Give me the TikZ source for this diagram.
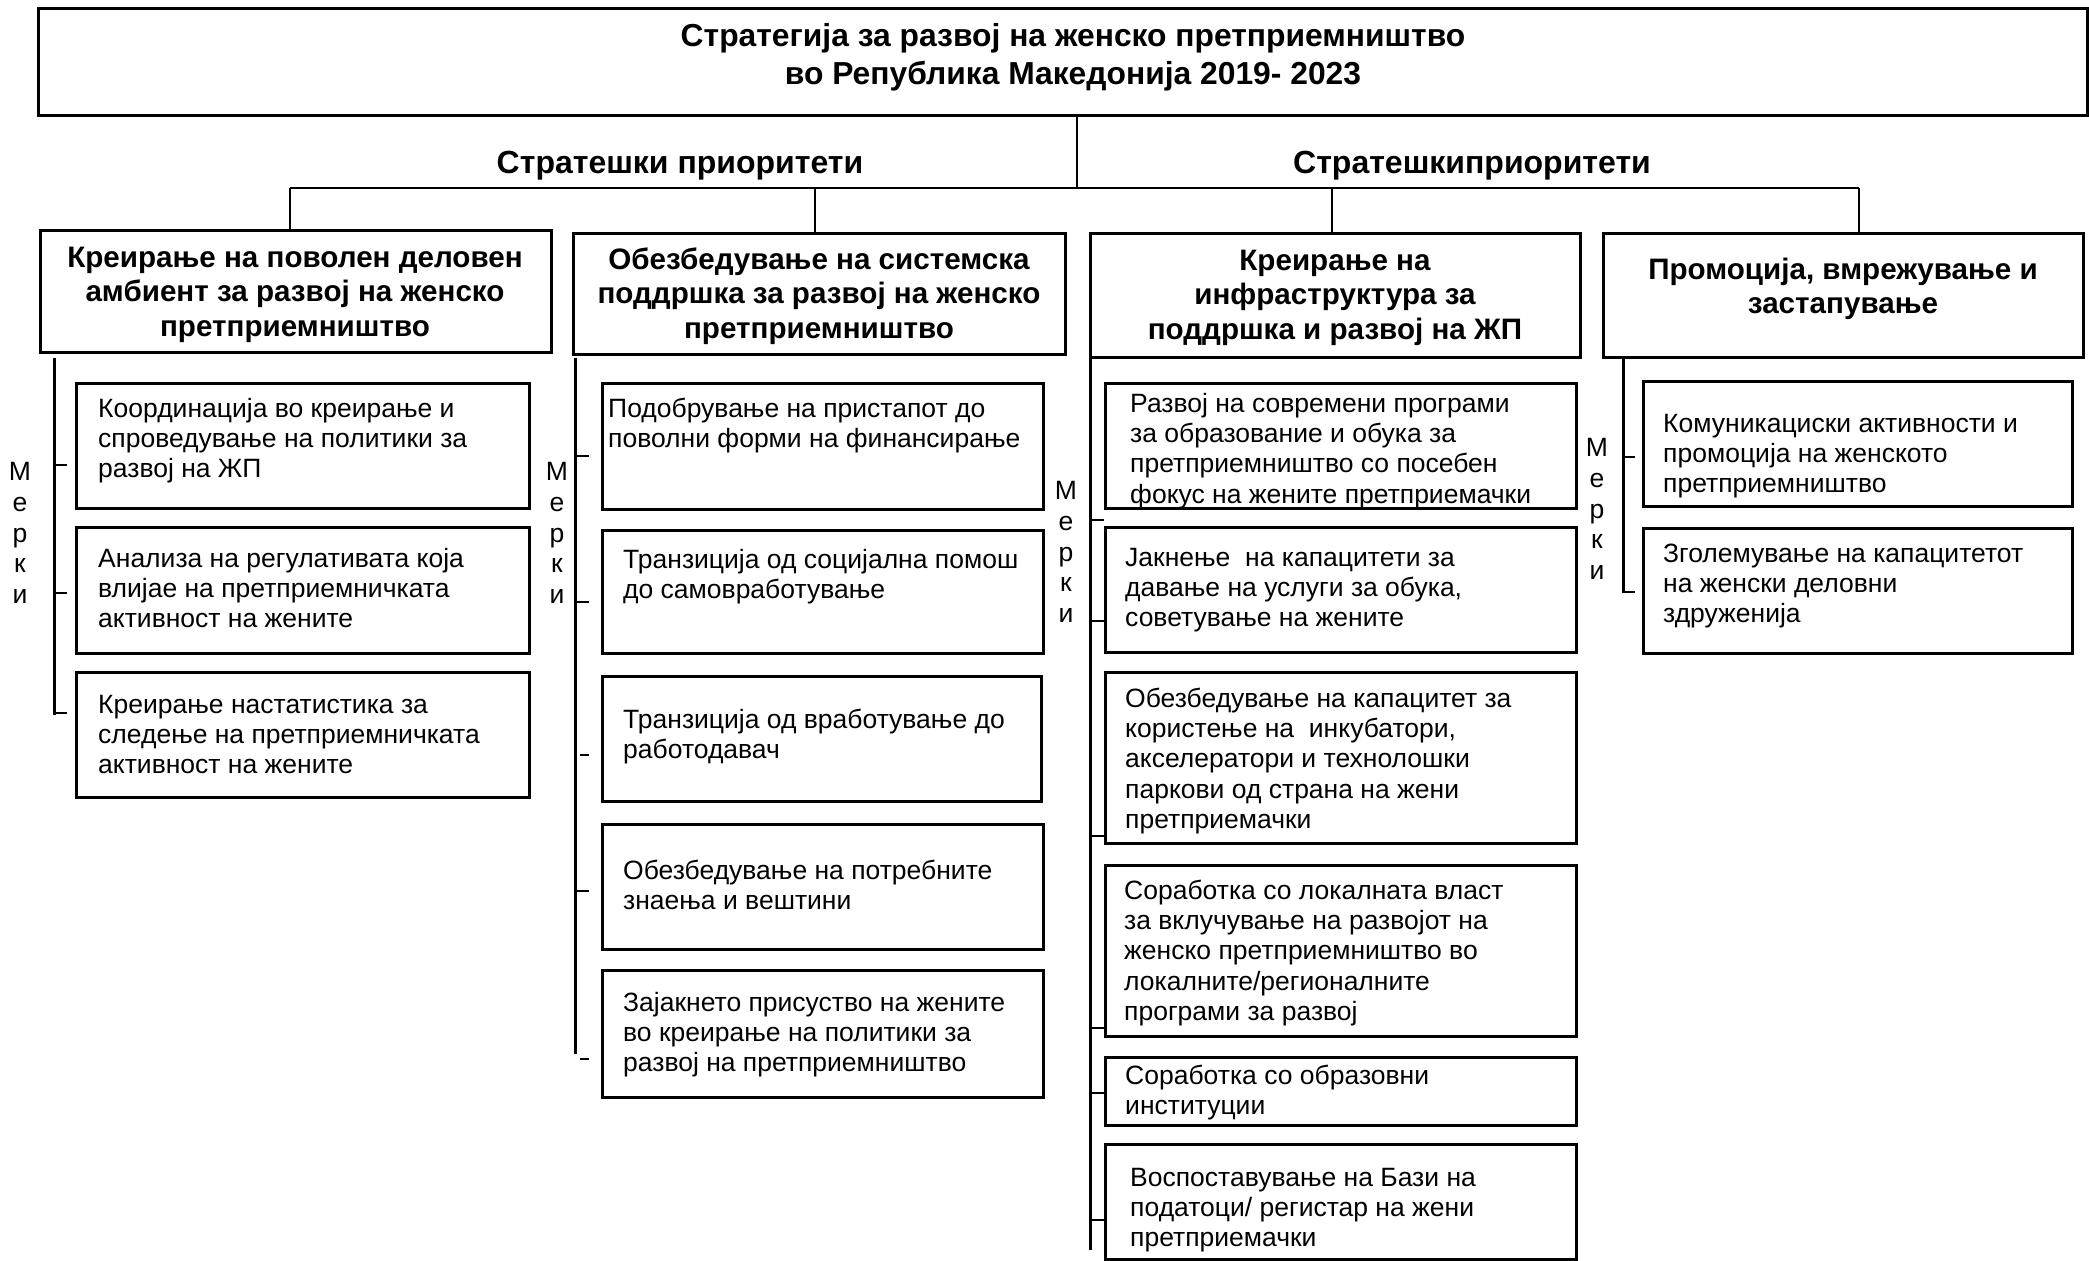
\documentclass[tikz,border=0pt]{standalone}
\usepackage{fontspec}
\setmainfont{Liberation Sans}
\usetikzlibrary{fit,calc}
\newcommand\fs{\rule{0pt}{24pt}}
\newcommand\hs{\rule{0pt}{28pt}}
\tikzset{
  boxline/.style={draw, line width=3pt, inner sep=0pt},
  conn/.style={line width=2.2pt},
  brack/.style={line width=3pt},
  tick/.style={line width=2.8pt},
  body/.style={inner sep=0pt, align=left, font=\fontsize{26.5}{30.3}\selectfont},
  head/.style={inner sep=0pt, align=center, font=\fontsize{29.6}{34.5}\selectfont\bfseries},
  lbl/.style={inner sep=0pt, align=center, font=\fontsize{32}{38}\selectfont\bfseries},
  ttl/.style={inner sep=0pt, align=center, font=\fontsize{31.8}{38}\selectfont\bfseries},
  merki/.style={inner sep=0pt, align=center, font=\fontsize{26.5}{30.6}\selectfont},
}
\newcommand\bx[5]{\path (#2,#3) coordinate (#1-nw) (#4,#5) coordinate (#1-se);
  \node[boxline, fit=(#1-nw)(#1-se)] (#1) {};}
\newcommand\tx[4]{\node[body, anchor=north west] (#1) at (#2,{#3-24}) {\fs #4};}
\newcommand\hd[4]{\node[head, anchor=north] (#1) at (#2,{#3-28}) {\hs #4};}
\begin{document}
\begin{tikzpicture}[x=1pt,y=-1pt]
\useasboundingbox (0,0) rectangle (2089,1261);
\fill[white] (0,0) rectangle (2089,1261);

% title
\bx{title}{38}{8}{2087}{115}
\node[ttl, anchor=north] (titletext) at (1073,{46-28}) {\hs Стратегија за развој на женско претприемништво\\во Република Македонија 2019- 2023};

\node[lbl, anchor=base] (sp1) at (680,173) {Стратешки приоритети};
\node[lbl, anchor=base] (sp2) at (1472,173) {Стратешкиприоритети};

% priority boxes
\bx{h1}{40}{230}{551}{352}
\bx{h2}{573}{233}{1065}{354}
\bx{h3}{1090}{233}{1580}{357}
\bx{h4}{1603}{233}{2083}{357}
\hd{ht1}{295}{267}{Креирање на поволен деловен\\амбиент за развој на женско\\претприемништво}
\hd{ht2}{819}{269}{Обезбедување на системска\\поддршка за развој на женско\\претприемништво}
\hd{ht3}{1335}{270}{Креирање на\\инфраструктура за\\поддршка и развој на ЖП}
\hd{ht4}{1843}{279}{Промоција, вмрежување и\\застапување}

% top connectors
\coordinate (hub) at (1077,188);
\coordinate (hl) at (290,188);
\coordinate (hr) at (1859,188);
\draw[conn] (title.south -| hub) -- (hub);
\draw[conn] (hl) -- (hr);
\draw[conn] (hl) -- (hl |- h1.north);
\draw[conn] (815,188) -- (h2.north -| 815,0);
\draw[conn] (1332,188) -- (h3.north -| 1332,0);
\draw[conn] (hr) -- (hr |- h4.north);

% column 1
\bx{b11}{76}{383}{529}{508}
\bx{b12}{76}{527}{529}{653}
\bx{b13}{76}{672}{529}{797}
\tx{t11}{98}{417}{Координација во креирање и\\спроведување на политики за\\развој на ЖП}
\tx{t12}{98}{567}{Анализа на регулативата која\\влијае на претприемничката\\активност на жените}
\tx{t13}{98}{713}{Креирање настатистика за\\следење на претприемничката\\активност на жените}

% column 2
\bx{b21}{602}{383}{1043}{509}
\bx{b22}{602}{530}{1043}{653}
\bx{b23}{602}{676}{1041}{801}
\bx{b24}{602}{824}{1043}{949}
\bx{b25}{602}{970}{1043}{1097}
\tx{t21}{608}{417}{Подобрување на пристапот до\\поволни форми на финансирање}
\tx{t22}{623}{568}{Транзиција од социјална помош\\до самовработување}
\tx{t23}{623}{728}{Транзиција од вработување до\\работодавач}
\tx{t24}{623}{879}{Обезбедување на потребните\\знаења и вештини}
\tx{t25}{623}{1011}{Зајакнето присуство на жените\\во креирање на политики за\\развој на претприемништво}

% column 3
\bx{b31}{1105}{383}{1576}{508}
\bx{b32}{1105}{527}{1576}{652}
\bx{b33}{1105}{672}{1576}{843}
\bx{b34}{1105}{865}{1576}{1036}
\bx{b35}{1105}{1057}{1576}{1125}
\bx{b36}{1105}{1144}{1576}{1259}
\tx{t31}{1130}{412}{Развој на современи програми\\за образование и обука за\\претприемништво со посебен\\фокус на жените претприемачки}
\tx{t32}{1125}{566}{Јакнење\ \ на капацитети за\\давање на услуги за обука,\\советување на жените}
\tx{t33}{1125}{707}{Обезбедување на капацитет за\\користење на\ \ инкубатори,\\акселератори и технолошки\\паркови од страна на жени\\претприемачки}
\tx{t34}{1124}{899}{Соработка со локалната власт\\за вклучување на развојот на\\женско претприемништво во\\локалните/регионалните\\програми за развој}
\tx{t35}{1125}{1084}{Соработка со образовни\\институции}
\tx{t36}{1130}{1186}{Воспоставување на Бази на\\податоци/ регистар на жени\\претприемачки}

% column 4
\bx{b41}{1643}{381}{2072}{506}
\bx{b42}{1643}{528}{2072}{653}
\tx{t41}{1663}{432}{Комуникациски активности и\\промоција на женското\\претприемништво}
\tx{t42}{1663}{562}{Зголемување на капацитетот\\на женски деловни\\здруженија}

% Merki labels
\node[merki] (m1) at (20,533) {М\\е\\р\\к\\и};
\node[merki] (m2) at (557,533) {М\\е\\р\\к\\и};
\node[merki] (m3) at (1066,552) {М\\е\\р\\к\\и};
\node[merki] (m4) at (1597,509) {М\\е\\р\\к\\и};

% brackets column 1
\coordinate (c1t) at (54,358); \coordinate (c1b) at (54,715);
\draw[brack] (c1t) -- (c1b);
\foreach \y in {465,593,713} \draw[tick] (54,\y) -- (67,\y);
% column 2
\coordinate (c2t) at (575,358); \coordinate (c2b) at (575,1054);
\draw[brack] (c2t) -- (c2b);
\foreach \y/\s in {456/575,602/575,755/580,891/575,1059/580} \draw[tick] (\s,\y) -- (589,\y);
% column 3
\coordinate (c3t) at (1090,357); \coordinate (c3b) at (1090,1250);
\draw[brack] (c3t) -- (c3b);
\foreach \y in {520,621,836,1028,1093,1220} \draw[tick] (1090,\y) -- (1104,\y);
% column 4
\coordinate (c4t) at (1623,359); \coordinate (c4b) at (1623,593);
\draw[brack] (c4t) -- (c4b);
\foreach \y in {457,592} \draw[tick] (1623,\y) -- (1635,\y);
\end{tikzpicture}
\end{document}
